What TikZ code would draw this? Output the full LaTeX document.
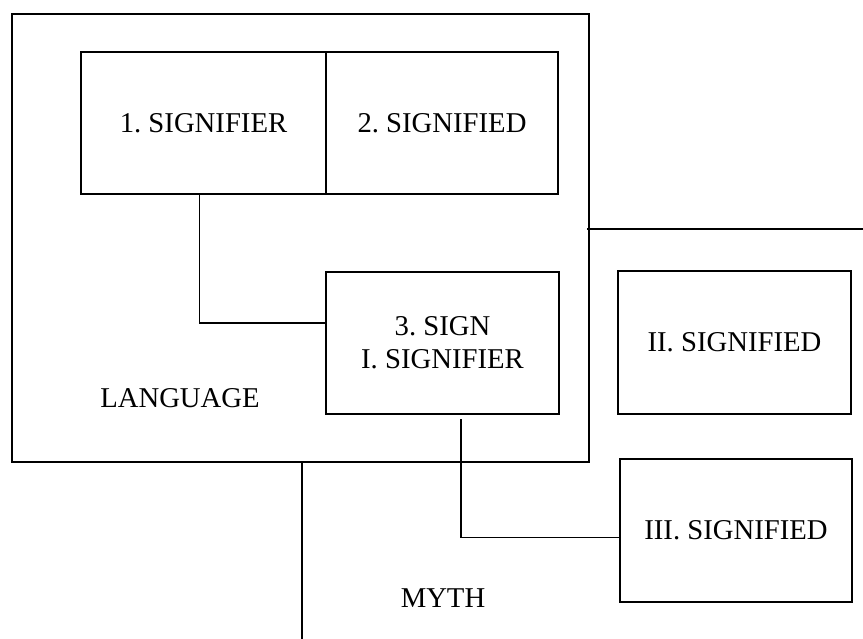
\documentclass[tikz,border=0pt]{standalone}
\usepackage{fontspec}
\setmainfont{Liberation Serif}
\usetikzlibrary{calc}
\begin{document}
\frenchspacing
\begin{tikzpicture}[x=1pt,y=-1pt,
  every node/.style={font=\fontsize{28.7}{33}\selectfont, inner sep=0pt, outer sep=0pt},
  region/.style={draw, line width=2.9pt},
  cell/.style={draw, line width=1.7pt},
  link/.style={draw, line width=1.3pt}]
  \useasboundingbox (0,0) rectangle (863,639);

  % LANGUAGE frame
  \node[region, minimum width=577pt, minimum height=448pt] (lang) at (300.5,238) {};
  \node (langlabel) at (180,398) {LANGUAGE};

  % MYTH frame (open on two sides)
  \coordinate (mythTopStart) at (587,229);
  \coordinate (mythTopEnd) at (863,229);
  \coordinate (mythLeftStart) at (302,462);
  \coordinate (mythLeftEnd) at (302,639);
  \draw[line width=2.9pt] (mythTopStart) -- (mythTopEnd);
  \draw[line width=2.9pt] (mythLeftStart) -- (mythLeftEnd);
  \node (mythlabel) at (443,598) {MYTH};

  % first-order sign
  \node[cell, minimum width=245pt, minimum height=142pt] (sigr) at (203.5,123) {1. SIGNIFIER};
  \node[cell, minimum width=232pt, minimum height=142pt] (sigd) at (442,123) {2. SIGNIFIED};
  \node[cell, minimum width=233pt, minimum height=142pt, align=center] (sign) at (442.5,343) {3. SIGN\\I. SIGNIFIER};

  % second-order sign
  \node[cell, minimum width=233pt, minimum height=143pt] (ii) at (734.5,342.5) {II. SIGNIFIED};
  \node[cell, minimum width=232pt, minimum height=143pt] (iii) at (736,530.5) {III. SIGNIFIED};

  % connectors
  \draw[link] ([xshift=-4pt]sigr.south) |- ($(sign.north west)!0.36!(sign.south west)$);
  \coordinate (signdrop) at (461,419);
  \draw[link] (signdrop) |- ($(iii.north west)!0.55!(iii.south west)$);
\end{tikzpicture}
\end{document}
